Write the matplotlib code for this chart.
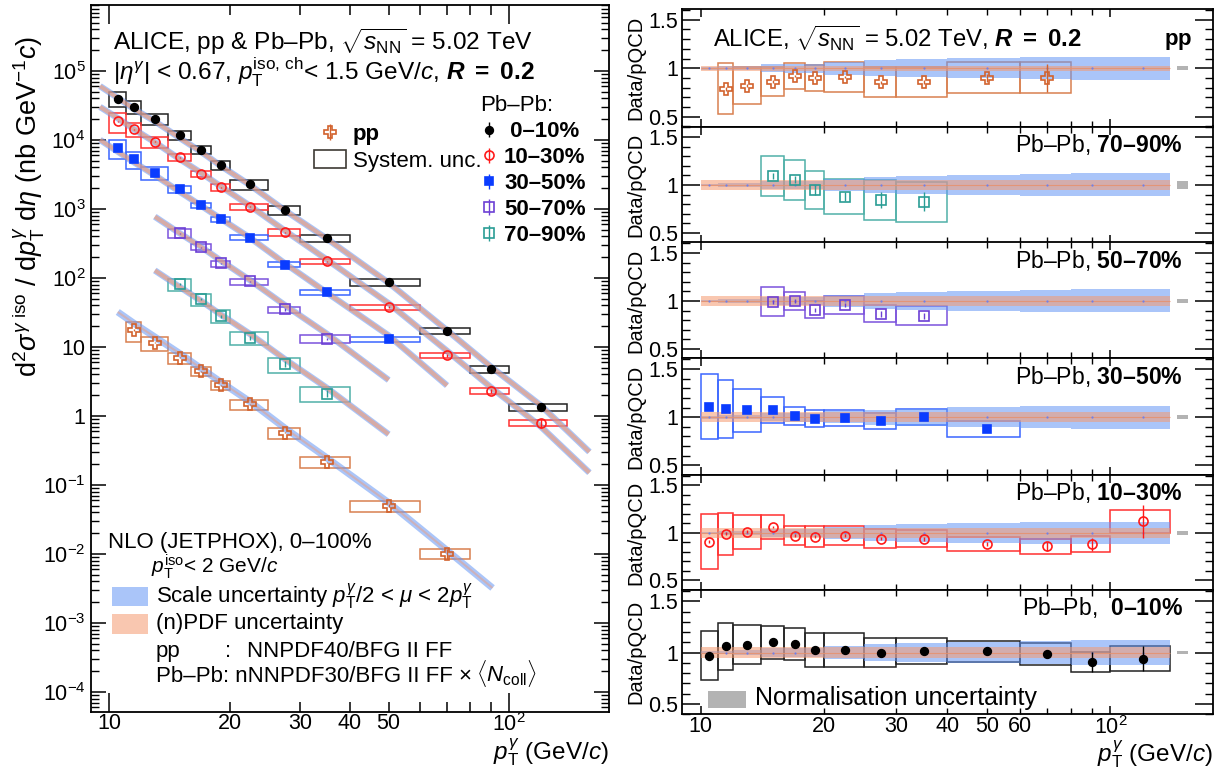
import numpy as np
import matplotlib
matplotlib.use("Agg")
import matplotlib.pyplot as plt
from matplotlib.patches import Patch, Rectangle
from matplotlib.ticker import FixedLocator, FixedFormatter, NullFormatter, MultipleLocator, LogLocator
from matplotlib.container import ErrorbarContainer
from matplotlib.legend_handler import HandlerErrorbar
from matplotlib.transforms import offset_copy

plt.rcParams.update({
    "font.family": ["Liberation Sans", "DejaVu Sans"],
    "mathtext.fontset": "custom",
    "mathtext.rm": "Liberation Sans",
    "mathtext.it": "Liberation Sans:italic",
    "mathtext.bf": "Liberation Sans:bold",
    "mathtext.bfit": "Liberation Sans:italic:bold",
    "mathtext.sf": "Liberation Sans",
    "axes.linewidth": 1.3,
})

# ---------------- data ----------------
bin_edges = [10, 11, 12, 14, 16, 18, 20, 25, 30, 40, 60, 80, 100, 140]
bin_pt = [10.5, 11.5, 13, 15, 17, 19, 22.5, 27.5, 35, 50, 70, 90, 120]

# pp
pp_first = 1
pp_spec = [17.5, 11.4, 6.9, 4.45, 2.79, 1.46, 0.568, 0.211, 0.0497, 0.0101]
pp_ratio = [0.79, 0.82, 0.86, 0.92, 0.90, 0.91, 0.855, 0.855, 0.90, 0.90]
pp_sys = [0.26, 0.19, 0.15, 0.13, 0.13, 0.15, 0.155, 0.155, 0.16, 0.16]
pp_stat = [0.02, 0.015, 0.015, 0.015, 0.015, 0.015, 0.015, 0.02, 0.04, 0.14]
pp_th_pt = [10.5, 91.0]
pp_th_val = [32.0, 3.2e-3]

# Pb-Pb 0-10%
c0010_first = 0
c0010_spec = [3.93e4, 3.0e4, 2.0e4, 1.17e4, 7.2e3, 4.3e3, 2.26e3, 948, 376, 85.7, 17.1, 4.7, 1.34]
c0010_ratio = [0.967, 1.062, 1.075, 1.098, 1.081, 1.023, 1.023, 0.997, 1.016, 1.01, 0.984, 0.906, 0.941]
c0010_sys = [0.24, 0.23, 0.19, 0.16, 0.155, 0.167, 0.163, 0.14, 0.125, 0.107, 0.11, 0.10, 0.118]
c0010_stat = [0.015, 0.015, 0.015, 0.015, 0.015, 0.015, 0.015, 0.015, 0.015, 0.02, 0.04, 0.10, 0.12]
c0010_th_pt = [9.48, 159.0]
c0010_th_val = [6.0e4, 0.30]

# Pb-Pb 10-30%
c1030_first = 0
c1030_spec = [1.87e4, 1.43e4, 9.36e3, 5.6e3, 3.2e3, 2.04e3, 1.07e3, 455, 173, 37.6, 7.5, 2.3, 0.79]
c1030_ratio = [0.906, 0.993, 1.014, 1.063, 0.969, 0.962, 0.969, 0.941, 0.938, 0.882, 0.858, 0.882, 1.122]
c1030_sys = [0.29, 0.22, 0.18, 0.125, 0.10, 0.11, 0.10, 0.10, 0.09, 0.075, 0.08, 0.085, 0.12]
c1030_stat = [0.015, 0.015, 0.015, 0.015, 0.015, 0.015, 0.015, 0.02, 0.02, 0.02, 0.05, 0.07, 0.17]
c1030_th_pt = [9.48, 159.0]
c1030_th_val = [3.0e4, 0.15]

# Pb-Pb 30-50%
c3050_first = 0
c3050_spec = [7.5e3, 5.2e3, 3.29e3, 1.91e3, 1.12e3, 709, 380, 156, 61.4, 12.8]
c3050_ratio = [1.11, 1.089, 1.072, 1.079, 1.014, 0.983, 0.997, 0.962, 1.003, 0.877]
c3050_sys = [0.34, 0.30, 0.225, 0.135, 0.09, 0.087, 0.083, 0.085, 0.087, 0.08]
c3050_stat = [0.02, 0.02, 0.02, 0.02, 0.02, 0.02, 0.02, 0.02, 0.02, 0.03]
c3050_th_pt = [9.48, 70.0]
c3050_th_val = [1.0e4, 2.75]

# Pb-Pb 50-70%
c5070_first = 3
c5070_spec = [440, 278, 162, 88.7, 34.8, 13.1]
c5070_ratio = [0.993, 0.997, 0.908, 0.959, 0.866, 0.846]
c5070_sys = [0.15, 0.095, 0.09, 0.095, 0.09, 0.10]
c5070_stat = [0.02, 0.02, 0.02, 0.02, 0.03, 0.03]
c5070_th_pt = [13.0, 50.0]
c5070_th_val = [770, 3.3]

# Pb-Pb 70-90%
c7090_first = 3
c7090_spec = [81, 48.6, 27.9, 13.5, 5.6, 2.1]
c7090_ratio = [1.097, 1.055, 0.948, 0.879, 0.845, 0.824]
c7090_sys = [0.21, 0.21, 0.195, 0.18, 0.21, 0.21]
c7090_stat = [0.03, 0.035, 0.05, 0.05, 0.08, 0.10]
c7090_th_pt = [13.0, 50.0]
c7090_th_val = [128, 0.54]

# theory (JETPHOX) relative uncertainties per bin
scale_unc = [0.015, 0.018, 0.022, 0.04, 0.045, 0.045, 0.065, 0.08, 0.09, 0.105, 0.115, 0.12, 0.12]
pdf_unc_pp = 0.025
pdf_unc_pbpb = 0.05

# normalisation uncertainties (ratio panels)
norm_unc = {"pp": 0.022, "70–90%": 0.038, "50–70%": 0.022, "30–50%": 0.02, "10–30%": 0.017, "0–10%": 0.017}
norm_pt_range = [145.0, 154.5]

# ---------------- styles ----------------
BLUE = "#6496f5"
ORANGE = "#f59a70"

series = {
    "pp": dict(first=pp_first, spec=pp_spec, ratio=pp_ratio, sys=pp_sys, stat=pp_stat,
               th_pt=pp_th_pt, th_val=pp_th_val, color="#d2622d", box="#d9804f",
               marker="P", mfc="none", ms=8.5, pdf=pdf_unc_pp),
    "0–10%": dict(first=c0010_first, spec=c0010_spec, ratio=c0010_ratio, sys=c0010_sys, stat=c0010_stat,
                  th_pt=c0010_th_pt, th_val=c0010_th_val, color="black", box="#222222",
                  marker="o", mfc="black", ms=5.5, pdf=pdf_unc_pbpb),
    "10–30%": dict(first=c1030_first, spec=c1030_spec, ratio=c1030_ratio, sys=c1030_sys, stat=c1030_stat,
                   th_pt=c1030_th_pt, th_val=c1030_th_val, color="#ff1a1a", box="#ff3030",
                   marker="o", mfc="none", ms=6.5, pdf=pdf_unc_pbpb),
    "30–50%": dict(first=c3050_first, spec=c3050_spec, ratio=c3050_ratio, sys=c3050_sys, stat=c3050_stat,
                   th_pt=c3050_th_pt, th_val=c3050_th_val, color="#0a3cff", box="#3a66ff",
                   marker="s", mfc="#0a3cff", ms=6, pdf=pdf_unc_pbpb),
    "50–70%": dict(first=c5070_first, spec=c5070_spec, ratio=c5070_ratio, sys=c5070_sys, stat=c5070_stat,
                   th_pt=c5070_th_pt, th_val=c5070_th_val, color="#6c3fd4", box="#7b52dc",
                   marker="s", mfc="none", ms=6.5, pdf=pdf_unc_pbpb),
    "70–90%": dict(first=c7090_first, spec=c7090_spec, ratio=c7090_ratio, sys=c7090_sys, stat=c7090_stat,
                   th_pt=c7090_th_pt, th_val=c7090_th_val, color="#2a9d95", box="#4fb0a8",
                   marker="s", mfc="none", ms=6.5, pdf=pdf_unc_pbpb),
}

W, H = 1226.0, 780.0
fig = plt.figure(figsize=(W / 100, H / 100), dpi=100)


def rect(l, t, r, b):
    return [l / W, 1 - b / H, (r - l) / W, (b - t) / H]


XLIM = (9.0, 178.0)
FS_TICK = 15.5
FS_LEG = 16
FS_THL = 16
FS_AXT = 17.5

# ================= left panel: spectra =================
axL = fig.add_axes(rect(91, 5, 609, 712))
axL.set_xscale("log")
axL.set_yscale("log")
axL.set_xlim(*XLIM)
axL.set_ylim(5.1e-5, 9.0e5)

handles = {}
for name, d in series.items():
    i0 = d["first"]
    n = len(d["spec"])
    lo = np.array(bin_edges[i0:i0 + n], float)
    hi = np.array(bin_edges[i0 + 1:i0 + n + 1], float)
    x = np.array(bin_pt[i0:i0 + n], float)
    y = np.array(d["spec"], float)
    r = np.array(d["ratio"], float)
    rsys = np.array(d["sys"], float) / r
    rstat = np.array(d["stat"], float) / r
    # theory curve: data / (data/theory) at the points, extended to the drawn range
    th_x = np.concatenate([[d["th_pt"][0]], x, [d["th_pt"][1]]])
    th_y = np.concatenate([[d["th_val"][0]], y / r, [d["th_val"][1]]])
    if name == "pp":
        axL.plot(th_x, th_y, color=BLUE, alpha=0.55, lw=5.0, solid_capstyle="butt", zorder=3)
        axL.plot(th_x, th_y, color=ORANGE, alpha=0.45, lw=1.5, solid_capstyle="butt", zorder=3.1)
    else:
        axL.plot(th_x, th_y, color=BLUE, alpha=0.55, lw=4.6, solid_capstyle="butt", zorder=3)
        axL.plot(th_x, th_y, color=ORANGE, alpha=0.6, lw=3.0, solid_capstyle="butt", zorder=3.1)
    axL.bar(lo, y * 2 * rsys, bottom=y * (1 - rsys), width=hi - lo, align="edge",
            fill=False, edgecolor=d["box"], lw=1.1, zorder=2)
    h = axL.errorbar(x, y, yerr=y * rstat, fmt=d["marker"], ms=d["ms"], mfc=d["mfc"],
                     mec=d["color"], mew=1.2, color=d["color"], elinewidth=1.0,
                     capsize=0, zorder=4)
    handles[name] = h

# axes ticks
axL.xaxis.set_major_locator(FixedLocator([10, 100]))
axL.xaxis.set_major_formatter(FixedFormatter(["10", r"$10^{2}$"]))
axL.xaxis.set_minor_locator(FixedLocator([20, 30, 40, 50, 60, 70, 80, 90]))
axL.xaxis.set_minor_formatter(FixedFormatter(["20", "30", "40", "50", "", "", "", ""]))
yt = [1e-4, 1e-3, 1e-2, 1e-1, 1, 10, 1e2, 1e3, 1e4, 1e5]
ytl = [r"$10^{-4}$", r"$10^{-3}$", r"$10^{-2}$", r"$10^{-1}$", "1", "10",
       r"$10^{2}$", r"$10^{3}$", r"$10^{4}$", r"$10^{5}$"]
axL.yaxis.set_major_locator(FixedLocator(yt))
axL.yaxis.set_major_formatter(FixedFormatter(ytl))
axL.yaxis.set_minor_locator(LogLocator(base=10, subs=np.arange(2, 10), numticks=30))
axL.yaxis.set_minor_formatter(NullFormatter())
axL.tick_params(which="both", direction="in", top=True, right=True, labelsize=FS_TICK)
axL.tick_params(axis="x", which="major", length=14, width=1.1, pad=0.7)
axL.tick_params(axis="x", which="minor", length=7, width=1.1, pad=0.7)
axL.tick_params(axis="y", which="major", length=11, width=1.1, pad=4)
axL.tick_params(axis="y", which="minor", length=6, width=1.0)

# titles
axL.text(0.042, 0.936, r"ALICE, pp & Pb–Pb, $\sqrt{s_{\rm NN}}$ = 5.02 TeV",
         transform=axL.transAxes, fontsize=17.6, va="baseline")
axL.text(0.042, 0.894,
         r"$|\eta^{\gamma}|$ < 0.67, $p_{\rm T}^{\rm iso,\,ch}$< 1.5 GeV/$c$, $\mathbfit{R}$ $\mathbf{=}$ $\mathbf{0.2}$",
         transform=axL.transAxes, fontsize=17.6, va="baseline")

hmap = {ErrorbarContainer: HandlerErrorbar(xerr_size=0.35)}
leg1 = axL.legend([handles["pp"], Patch(facecolor="none", edgecolor="#3d3a33", lw=1.2)],
                  ["pp", "System. unc."], loc="upper left", bbox_to_anchor=(0.4305, 0.8325),
                  frameon=False, fontsize=FS_LEG, borderpad=0, borderaxespad=0,
                  handlelength=1.44, handleheight=0.86, handletextpad=0.3, labelspacing=0.22,
                  handler_map=hmap)
leg1.get_texts()[0].set_fontweight("bold")
axL.add_artist(leg1)
pb_names = ["0–10%", "10–30%", "30–50%", "50–70%", "70–90%"]
leg2 = axL.legend([handles[k] for k in pb_names], [" 0–10%"] + pb_names[1:],
                  loc="upper left", bbox_to_anchor=(0.751, 0.872), frameon=False,
                  prop=dict(weight="bold", size=FS_LEG), title="Pb–Pb:",
                  title_fontproperties=dict(size=FS_LEG), alignment="left",
                  borderpad=0, borderaxespad=0, handlelength=0.83, handletextpad=0.25,
                  labelspacing=0.22, handler_map=hmap)

# theory legend (bottom left)
axL.text(0.032, 0.2315, "NLO (JETPHOX), 0–100%", transform=axL.transAxes, fontsize=FS_THL, va="baseline")
axL.text(0.115, 0.1965, r"$p_{\rm T}^{\rm iso}$< 2 GeV/$c$", transform=axL.transAxes, fontsize=15, va="baseline")
axL.add_patch(Rectangle((0.0396, 0.150), 0.0701, 0.027, transform=axL.transAxes,
                        facecolor=BLUE, alpha=0.55, lw=0))
axL.add_patch(Rectangle((0.0396, 0.110), 0.0701, 0.028, transform=axL.transAxes,
                        facecolor=ORANGE, alpha=0.55, lw=0))
axL.text(0.125, 0.154, r"Scale uncertainty $p_{\rm T}^{\gamma}/2$ < $\mu$ < 2$p_{\rm T}^{\gamma}$",
         transform=axL.transAxes, fontsize=FS_THL, va="baseline")
axL.text(0.125, 0.117, "(n)PDF uncertainty", transform=axL.transAxes, fontsize=FS_THL, va="baseline")
axL.text(0.125, 0.078, "pp", transform=axL.transAxes, fontsize=FS_THL, va="baseline")
axL.text(0.2585, 0.078, ":", transform=axL.transAxes, fontsize=FS_THL, va="baseline")
axL.text(0.3015, 0.078, "NNPDF40/BFG II FF", transform=axL.transAxes, fontsize=FS_THL, va="baseline")
t_pb = axL.text(0.125, 0.042, "Pb–Pb: nNNPDF30/BFG II FF ×", transform=axL.transAxes,
                fontsize=FS_THL, va="baseline")
fig.canvas.draw()
bb = t_pb.get_window_extent()
x_next = axL.transAxes.inverted().transform((bb.x1, bb.y0))[0]
axL.text(x_next, 0.042, r"$\langle N_{\rm coll}\rangle$",
         transform=offset_copy(axL.transAxes, fig=fig, x=4, y=0, units="dots"),
         fontsize=FS_THL, va="baseline")

# axis titles
fig.text(28 / W, 1 - 207 / H,
         r"d$^{2}\sigma^{\gamma\ {\rm iso}}$ / d$p_{\rm T}^{\gamma}$ d$\eta$ (nb GeV$^{-1}$$c$)",
         rotation=90, ha="center", va="center", fontsize=19.5)
axL.text(1.0, -(760 - 712) / 707, r"$p_{\rm T}^{\gamma}$ (GeV/$c$)", transform=axL.transAxes,
         ha="right", va="baseline", fontsize=FS_AXT)

# ================= right panels: data / pQCD =================
panel_order = ["pp", "70–90%", "50–70%", "30–50%", "10–30%", "0–10%"]
panel_bounds = [(9, 126.5), (126.5, 242.5), (242.5, 358.5), (358.5, 475), (475, 590), (590, 714)]
panel_text = {
    "pp": r"$\mathbf{pp}$",
    "70–90%": r"Pb–Pb, $\mathbf{70–90\%}$",
    "50–70%": r"Pb–Pb, $\mathbf{50–70\%}$",
    "30–50%": r"Pb–Pb, $\mathbf{30–50\%}$",
    "10–30%": r"Pb–Pb, $\mathbf{10–30\%}$",
    "0–10%": r"Pb–Pb,  $\mathbf{0–10\%}$",
}
E = np.array(bin_edges, float)
S = np.array(scale_unc, float)
centre = np.ones_like(S)
for k, name in enumerate(panel_order):
    top, bot = panel_bounds[k]
    ax = fig.add_axes(rect(682, top, 1213, bot))
    ax.set_xscale("log")
    ax.set_xlim(*XLIM)
    ax.set_ylim(0.4, 1.61)
    d = series[name]
    P = np.full_like(S, d["pdf"])
    ax.stairs(centre + S, E, baseline=centre - S, fill=True, color=BLUE, alpha=0.55, lw=0, zorder=3)
    ax.stairs(centre + P, E, baseline=centre - P, fill=True, color=ORANGE, alpha=0.55, lw=0, zorder=3.1)
    ax.stairs(centre, E, baseline=None, color="#e8906a", lw=0.8, alpha=0.8, zorder=3.2)
    ax.plot(bin_pt, centre, ls="none", marker="o", ms=1.6, color="#7080e8", mew=0, zorder=3.3)
    nu = norm_unc[name]
    ax.bar(norm_pt_range[0], 2 * nu, bottom=1 - nu, width=norm_pt_range[1] - norm_pt_range[0],
           align="edge", color="#b3b3b3", lw=0, zorder=3)

    i0 = d["first"]
    n = len(d["ratio"])
    lo = E[i0:i0 + n]
    hi = E[i0 + 1:i0 + n + 1]
    x = np.array(bin_pt[i0:i0 + n], float)
    r = np.array(d["ratio"], float)
    s = np.array(d["sys"], float)
    ax.bar(lo, 2 * s, bottom=r - s, width=hi - lo, align="edge", fill=False,
           edgecolor=d["box"], lw=1.1, zorder=2)
    ax.errorbar(x, r, yerr=d["stat"], fmt=d["marker"], ms=d["ms"], mfc=d["mfc"],
                mec=d["color"], mew=1.2, color=d["color"], elinewidth=1.0, capsize=0, zorder=4)

    ax.xaxis.set_major_locator(FixedLocator([10, 100]))
    ax.xaxis.set_minor_locator(FixedLocator([20, 30, 40, 50, 60, 70, 80, 90]))
    if k == len(panel_order) - 1:
        ax.xaxis.set_major_formatter(FixedFormatter(["10", r"$10^{2}$"]))
        ax.xaxis.set_minor_formatter(FixedFormatter(["20", "30", "40", "50", "60", "", "", ""]))
    else:
        ax.xaxis.set_major_formatter(NullFormatter())
        ax.xaxis.set_minor_formatter(NullFormatter())
    ax.yaxis.set_major_locator(FixedLocator([0.5, 1.0, 1.5]))
    ax.yaxis.set_major_formatter(FixedFormatter(["0.5", "1", "1.5"]))
    ax.yaxis.set_minor_locator(MultipleLocator(0.1))
    ax.tick_params(which="both", direction="in", top=True, right=True, labelsize=FS_TICK)
    ax.tick_params(axis="x", which="major", length=6, width=1.1, pad=1.3)
    ax.tick_params(axis="x", which="minor", length=4, width=1.0, pad=1.3)
    ax.tick_params(axis="y", which="major", length=13, width=1.1, pad=3)
    ax.tick_params(axis="y", which="minor", length=6, width=1.0)

    hpx = bot - top
    ax.text(-0.0866, 0.5, "Data/pQCD", transform=ax.transAxes, rotation=90,
            ha="center", va="center", fontsize=14.5)
    if name == "pp":
        ax.text(0.960, 1 - 36 / hpx, panel_text[name], transform=ax.transAxes,
                ha="right", va="baseline", fontsize=16)
        ax.text(0.058, 1 - 38 / hpx,
                r"ALICE, $\sqrt{s_{\rm NN}}$ = 5.02 TeV, $\mathbfit{R}$ $\mathbf{=}$ $\mathbf{0.2}$",
                transform=ax.transAxes, ha="left", va="baseline", fontsize=17.2)
    else:
        ax.text(0.9435, 1 - 25.5 / hpx, panel_text[name], transform=ax.transAxes,
                ha="right", va="baseline", fontsize=16.6)
    if k == len(panel_order) - 1:
        ax.add_patch(Rectangle((0.049, 0.051), 0.0715, 0.137, transform=ax.transAxes,
                               facecolor="#b3b3b3", lw=0))
        ax.text(0.138, 0.073, "Normalisation uncertainty", transform=ax.transAxes,
                ha="left", va="baseline", fontsize=18)
        ax.text(1.0, -(761 - 714) / hpx, r"$p_{\rm T}^{\gamma}$ (GeV/$c$)", transform=ax.transAxes,
                ha="right", va="baseline", fontsize=FS_AXT)

fig.savefig("out.png", dpi=100)
